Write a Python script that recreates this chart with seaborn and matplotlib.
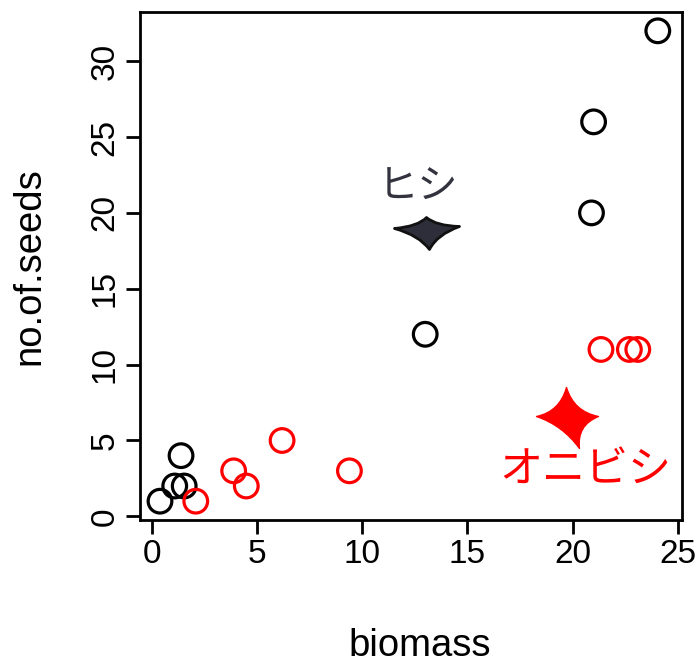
import numpy as np
import pandas as pd
import matplotlib
matplotlib.use("Agg")
import matplotlib.pyplot as plt
from matplotlib.path import Path
import seaborn as sns

# ---- data ----
hishi_biomass = [0.4, 1.1, 1.55, 1.4, 13.0, 20.9, 21.0, 24.05]
hishi_seeds = [1, 2, 2, 4, 12, 20, 26, 32]
onibishi_biomass = [2.1, 3.9, 4.5, 6.2, 9.4, 21.35, 22.7, 23.1]
onibishi_seeds = [1, 3, 2, 5, 3, 11, 11, 11]

species_names = ["ヒシ", "オニビシ"]
species_colors = ["black", "red"]
star_biomass = [13.1, 19.7]
star_seeds = [18.85, 6.4]
label_biomass = [12.66, 20.59]
label_seeds = [21.7, 3.1]

df = pd.DataFrame({
    "biomass": hishi_biomass + onibishi_biomass,
    "no.of.seeds": hishi_seeds + onibishi_seeds,
    "species": [species_names[0]] * len(hishi_biomass) + [species_names[1]] * len(onibishi_biomass),
})

sns.set_style("ticks")
plt.rcParams["font.family"] = ["Liberation Sans", "DejaVu Sans"]
plt.rcParams["text.color"] = "black"
plt.rcParams["axes.labelcolor"] = "black"
plt.rcParams["xtick.color"] = "black"
plt.rcParams["ytick.color"] = "black"

fig = plt.figure(figsize=(6.98, 6.65), dpi=100)
ax = fig.add_axes([140 / 698, 1 - 520 / 665, 542 / 698, 508 / 665])

for name, col in zip(species_names, species_colors):
    sub = df[df["species"] == name]
    sns.scatterplot(data=sub, x="biomass", y="no.of.seeds", ax=ax, s=290,
                    color=col, facecolor="none", edgecolor=col, linewidth=2.3,
                    zorder=3, legend=False)


def star_path(tips, c=0.3):
    verts = []
    codes = []
    n = len(tips)
    for i in range(n):
        t1 = np.array(tips[i], float)
        t2 = np.array(tips[(i + 1) % n], float)
        if i == 0:
            verts.append(t1)
            codes.append(Path.MOVETO)
        ctrl = c * (t1 + t2) / 2
        verts.append(ctrl)
        codes.append(Path.CURVE3)
        verts.append(t2)
        codes.append(Path.CURVE3)
    verts.append(tips[0])
    codes.append(Path.CLOSEPOLY)
    return Path(np.array(verts), codes)


black_star = star_path([(-1, 13), (32, 4), (2, -19), (-33, 2)], c=0.55)
red_star = star_path([(0, 32), (32, 3), (13, -29), (-30, 3)], c=0.45)

sns.scatterplot(x=[star_biomass[0]], y=[star_seeds[0]], ax=ax, marker=black_star,
                s=2256, color="#2e2e3a", edgecolor="#111111", linewidth=2, zorder=4, legend=False)
sns.scatterplot(x=[star_biomass[1]], y=[star_seeds[1]], ax=ax, marker=red_star,
                s=2120, color="red", edgecolor="red", linewidth=1, zorder=4, legend=False)

jp = ["Noto Sans CJK JP", "DejaVu Sans"]
ax.text(label_biomass[0], label_seeds[0], species_names[0], color="#33333f",
        fontsize=29, family=jp, ha="center", va="center")
ax.text(label_biomass[1], label_seeds[1], species_names[1], color="red",
        fontsize=31, family=jp, ha="center", va="center")

ax.set_xlim(-0.55, 25.2)
ax.set_ylim(-0.24, 33.24)
ax.set_xticks([0, 5, 10, 15, 20, 25])
ax.set_yticks([0, 5, 10, 15, 20, 25, 30])

for sp in ax.spines.values():
    sp.set_visible(True)
    sp.set_linewidth(2)
    sp.set_color("black")

ax.tick_params(axis="both", direction="out", length=10, width=2, color="black",
               labelsize=24, labelcolor="black", pad=4)
for lab in ax.get_yticklabels():
    lab.set_rotation(90)
    lab.set_va("center")
    lab.set_ha("right")

ax.set_xlabel("biomass", fontsize=27.5, color="black")
ax.set_ylabel("no.of.seeds", fontsize=27.5, labelpad=30, color="black")
ax.xaxis.set_label_coords(0.517, -0.212)

fig.savefig("out.png", dpi=100)
